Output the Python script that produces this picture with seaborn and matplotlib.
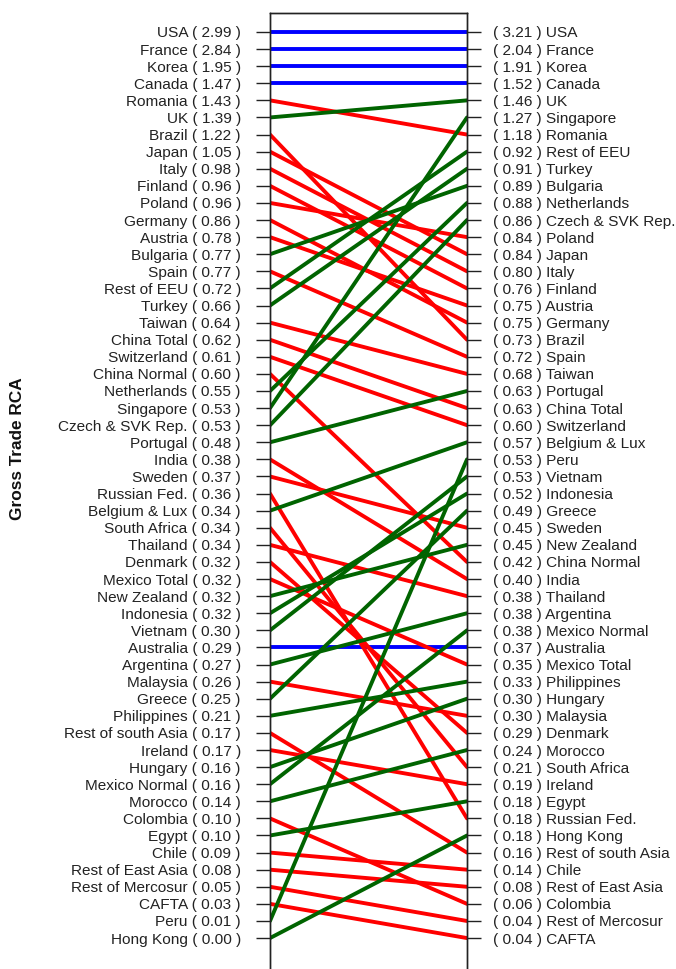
import matplotlib
matplotlib.use("Agg")
import matplotlib.pyplot as plt
import seaborn as sns
import pandas as pd

# Left column: ranking by first RCA measure
left_names = ["USA", "France", "Korea", "Canada", "Romania", "UK", "Brazil", "Japan",
              "Italy", "Finland", "Poland", "Germany", "Austria", "Bulgaria", "Spain",
              "Rest of EEU", "Turkey", "Taiwan", "China Total", "Switzerland",
              "China Normal", "Netherlands", "Singapore", "Czech & SVK Rep.", "Portugal",
              "India", "Sweden", "Russian Fed.", "Belgium & Lux", "South Africa",
              "Thailand", "Denmark", "Mexico Total", "New Zealand", "Indonesia",
              "Vietnam", "Australia", "Argentina", "Malaysia", "Greece", "Philippines",
              "Rest of south Asia", "Ireland", "Hungary", "Mexico Normal", "Morocco",
              "Colombia", "Egypt", "Chile", "Rest of East Asia", "Rest of Mercosur",
              "CAFTA", "Peru", "Hong Kong"]
left_values = [2.99, 2.84, 1.95, 1.47, 1.43, 1.39, 1.22, 1.05, 0.98, 0.96, 0.96, 0.86,
               0.78, 0.77, 0.77, 0.72, 0.66, 0.64, 0.62, 0.61, 0.60, 0.55, 0.53, 0.53,
               0.48, 0.38, 0.37, 0.36, 0.34, 0.34, 0.34, 0.32, 0.32, 0.32, 0.32, 0.30,
               0.29, 0.27, 0.26, 0.25, 0.21, 0.17, 0.17, 0.16, 0.16, 0.14, 0.10, 0.10,
               0.09, 0.08, 0.05, 0.03, 0.01, 0.00]

# Right column: ranking by second RCA measure
right_names = ["USA", "France", "Korea", "Canada", "UK", "Singapore", "Romania",
               "Rest of EEU", "Turkey", "Bulgaria", "Netherlands", "Czech & SVK Rep.",
               "Poland", "Japan", "Italy", "Finland", "Austria", "Germany", "Brazil",
               "Spain", "Taiwan", "Portugal", "China Total", "Switzerland",
               "Belgium & Lux", "Peru", "Vietnam", "Indonesia", "Greece", "Sweden",
               "New Zealand", "China Normal", "India", "Thailand", "Argentina",
               "Mexico Normal", "Australia", "Mexico Total", "Philippines", "Hungary",
               "Malaysia", "Denmark", "Morocco", "South Africa", "Ireland", "Egypt",
               "Russian Fed.", "Hong Kong", "Rest of south Asia", "Chile",
               "Rest of East Asia", "Colombia", "Rest of Mercosur", "CAFTA"]
right_values = [3.21, 2.04, 1.91, 1.52, 1.46, 1.27, 1.18, 0.92, 0.91, 0.89, 0.88, 0.86,
                0.84, 0.84, 0.80, 0.76, 0.75, 0.75, 0.73, 0.72, 0.68, 0.63, 0.63, 0.60,
                0.57, 0.53, 0.53, 0.52, 0.49, 0.45, 0.45, 0.42, 0.40, 0.38, 0.38, 0.38,
                0.37, 0.35, 0.33, 0.30, 0.30, 0.29, 0.24, 0.21, 0.19, 0.18, 0.18, 0.18,
                0.16, 0.14, 0.08, 0.06, 0.04, 0.04]

y_label = "Gross Trade RCA"
trend_colors = {"same": "#0000FF", "down": "#FF0000", "up": "#006400"}

# Build long table: one row per country and side, position = rank
left_rank = {n: i + 1 for i, n in enumerate(left_names)}
right_rank = {n: i + 1 for i, n in enumerate(right_names)}
rows = []
for n in left_names:
    lr, rr = left_rank[n], right_rank[n]
    trend = "same" if lr == rr else ("down" if rr > lr else "up")
    rows.append({"country": n, "side": 0.0, "rank": lr, "trend": trend})
    rows.append({"country": n, "side": 1.0, "rank": rr, "trend": trend})
df = pd.DataFrame(rows)

sns.set_style("white")
plt.rcParams["font.family"] = ["Liberation Sans", "DejaVu Sans"]

W, H = 676, 969
fig = plt.figure(figsize=(W / 100, H / 100), dpi=100)
ax_left_px, ax_right_px, ax_top_px, ax_bot_px = 270, 467, 13, 975
ax = fig.add_axes([ax_left_px / W, (H - ax_bot_px) / H,
                   (ax_right_px - ax_left_px) / W, (ax_bot_px - ax_top_px) / H])

sns.lineplot(data=df, x="side", y="rank", units="country", hue="trend",
             palette=trend_colors, estimator=None, sort=False,
             linewidth=2.8, legend=False, ax=ax)

n = len(left_names)
ax.set_xlim(0, 1)
ax.set_ylim(56.16, -0.11)
ax.set_xticks([])
ax.set_xlabel("")
ax.set_ylabel("")

label_size = 11.1
ax.set_yticks(range(1, n + 1))
ax.set_yticklabels([f"{nm} ( {v:.2f} )" for nm, v in zip(left_names, left_values)],
                   fontsize=label_size, color="#222222")
ax.tick_params(axis="y", left=True, length=10, width=1, pad=11, direction="out",
               color="#222222")

ax2 = ax.twinx()
ax2.set_ylim(ax.get_ylim())
ax2.set_yticks(range(1, len(right_names) + 1))
ax2.set_yticklabels([f"( {v:.2f} ) {nm}" for nm, v in zip(right_names, right_values)],
                    fontsize=label_size, color="#222222")
ax2.tick_params(axis="y", right=True, length=10, width=1, pad=8.5, direction="out",
                color="#222222")
ax2.set_ylabel("")

for a in (ax, ax2):
    for s in a.spines.values():
        s.set_color("#222222")
        s.set_linewidth(1)

fig.text(18 / W, 1 - 449 / H, y_label, rotation=90, ha="center", va="center",
         fontsize=12.4, fontweight="bold", color="#111111")

fig.savefig("out.png", dpi=100)
